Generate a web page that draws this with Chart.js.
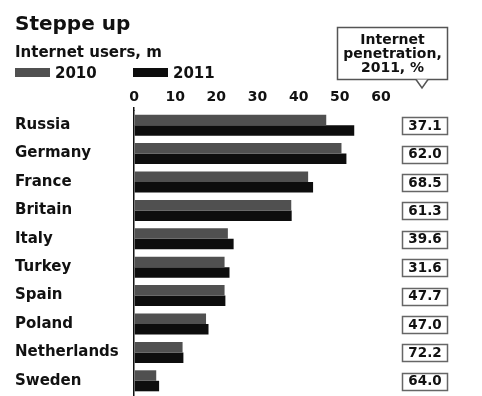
<!DOCTYPE html>
<html lang="en">
<head>
<meta charset="UTF-8">
<title>Steppe up</title>
<script src="https://cdn.jsdelivr.net/npm/chart.js@4.4.0/dist/chart.umd.min.js"></script>
<style>
  html, body { margin: 0; padding: 0; background: #fff; }
  .wrap { position: relative; width: 482px; height: 396px; }
</style>
</head>
<body>
<div class="wrap"><canvas id="chart"></canvas></div>
<script>
// internet users, millions
const countries = ['Russia', 'Germany', 'France', 'Britain', 'Italy', 'Turkey', 'Spain', 'Poland', 'Netherlands', 'Sweden'];
const users2010 = [46.7, 50.4, 42.3, 38.2, 22.8, 22.0, 22.0, 17.5, 11.8, 5.4];
const users2011 = [53.5, 51.6, 43.5, 38.3, 24.2, 23.2, 22.2, 18.1, 12.0, 6.1];
// internet penetration 2011, %
const penetration2011 = [37.1, 62.0, 68.5, 61.3, 39.6, 31.6, 47.7, 47.0, 72.2, 64.0];
const xMin = 0, xMax = 60, xStep = 10;

const FONT = '"DejaVu Sans", sans-serif';
const INK = '#111';

const extras = {
    id: 'extras',
    afterDraw(chart) {
        const ctx = chart.ctx;
        const yScale = chart.scales.y;
        ctx.save();
        ctx.fillStyle = INK;
        ctx.textAlign = 'left';
        ctx.textBaseline = 'alphabetic';

        // title + subtitle
        ctx.font = 'bold 20px ' + FONT;
        ctx.fillText('Steppe up', 15, 30);
        ctx.font = 'bold 15px ' + FONT;
        ctx.fillText('Internet users, m', 15, 57);

        // legend
        const legendX = [15, 133];
        chart.data.datasets.forEach((ds, i) => {
            ctx.fillStyle = ds.backgroundColor;
            ctx.fillRect(legendX[i], 68, 35, 9);
            ctx.fillStyle = INK;
            ctx.font = 'bold 15px ' + FONT;
            ctx.fillText(ds.label, legendX[i] + 40, 78);
        });

        // callout header
        ctx.strokeStyle = '#555';
        ctx.lineWidth = 1.5;
        ctx.strokeRect(337.5, 27.5, 110, 52);
        ctx.fillStyle = '#fff';
        ctx.beginPath();
        ctx.moveTo(416, 79.5);
        ctx.lineTo(422, 88);
        ctx.lineTo(428, 79.5);
        ctx.closePath();
        ctx.fill();
        ctx.beginPath();
        ctx.moveTo(416, 79.5);
        ctx.lineTo(422, 88);
        ctx.lineTo(428, 79.5);
        ctx.stroke();
        ctx.fillStyle = INK;
        ctx.textAlign = 'center';
        ctx.textBaseline = 'middle';
        ctx.font = 'bold 14px ' + FONT;
        ['Internet', 'penetration,', '2011, %'].forEach((t, i) => {
            ctx.fillText(t, 392.5, 40 + i * 14);
        });

        // penetration boxes
        ctx.font = 'bold 13.5px ' + FONT;
        penetration2011.forEach((v, i) => {
            const y = yScale.getPixelForValue(i);
            ctx.strokeStyle = '#666';
            ctx.strokeRect(402.5, Math.round(y - 8) + 0.5, 45, 17);
            ctx.fillStyle = INK;
            ctx.fillText(v.toFixed(1), 425, y + 1);
        });
        ctx.restore();
    }
};

new Chart(document.getElementById('chart'), {
    type: 'bar',
    data: {
        labels: countries,
        datasets: [
            { label: '2010', data: users2010, backgroundColor: '#505050' },
            { label: '2011', data: users2011, backgroundColor: '#0d0d0d' }
        ]
    },
    options: {
        indexAxis: 'y',
        responsive: true,
        maintainAspectRatio: false,
        animation: false,
        categoryPercentage: 0.74,
        barPercentage: 1.0,
        layout: { padding: { top: 86, left: 15, right: 101, bottom: 1 } },
        plugins: {
            legend: { display: false },
            tooltip: { enabled: false }
        },
        scales: {
            x: {
                position: 'top',
                min: xMin,
                max: xMax,
                ticks: { stepSize: xStep, color: INK, padding: 1, font: { family: FONT, size: 14, weight: 'bold' } },
                grid: {
                    drawOnChartArea: false,
                    drawTicks: true,
                    tickLength: 4,
                    lineWidth: 1.5,
                    color: c => (c.tick && c.tick.value === 0 ? INK : 'rgba(0,0,0,0)')
                },
                border: { display: false },
                afterFit: s => { s.height = 25; s.paddingLeft = 0; s.paddingRight = 0; }
            },
            y: {
                ticks: { color: INK, crossAlign: 'far', font: { family: FONT, size: 15, weight: 'bold' } },
                grid: { display: false },
                border: { display: true, color: INK, width: 1.5 },
                afterFit: s => { s.width = 119; s.paddingTop = 0; s.paddingBottom = 0; }
            }
        }
    },
    plugins: [extras]
});
</script>
</body>
</html>
